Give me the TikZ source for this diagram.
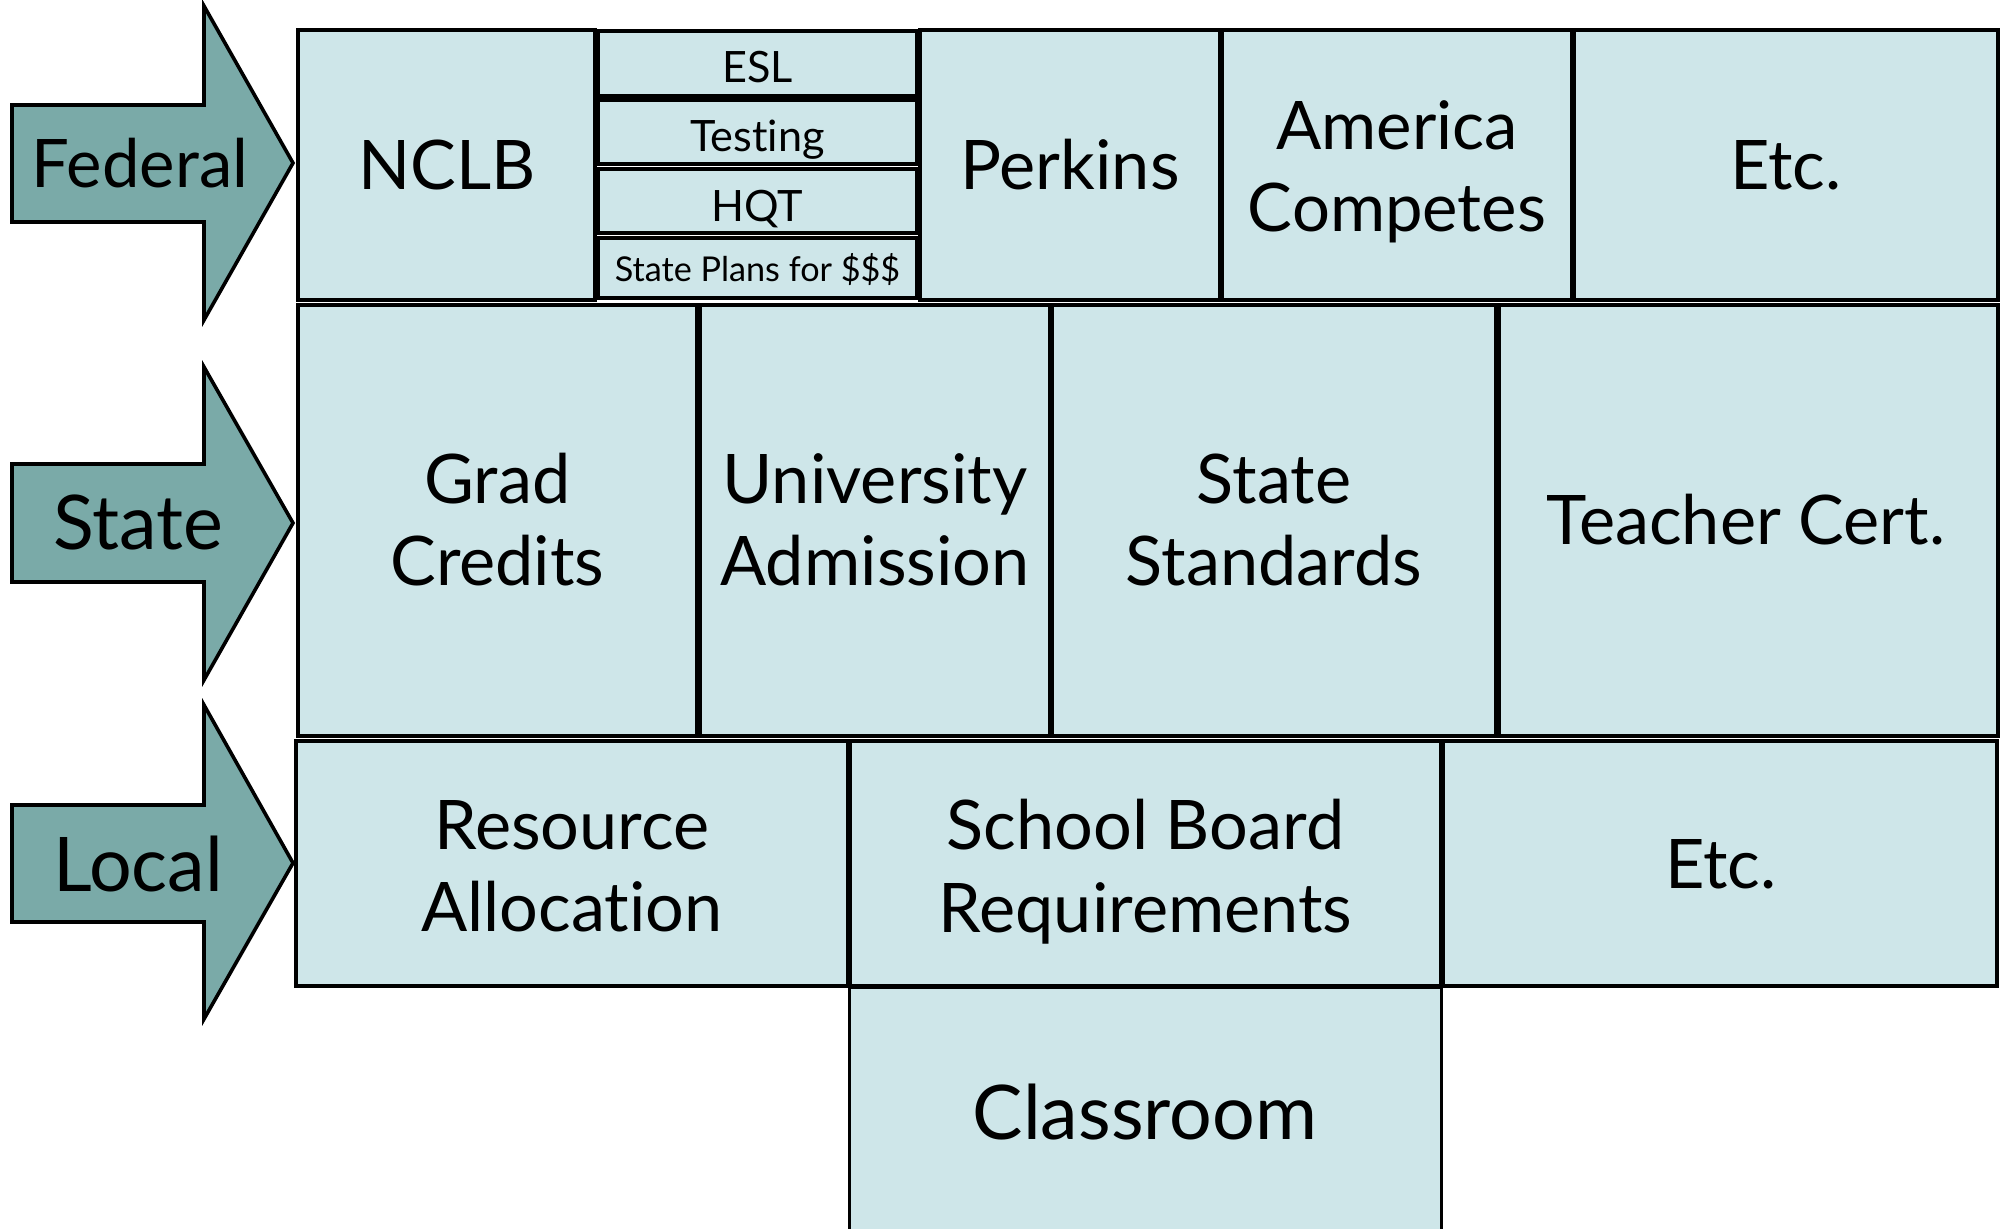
\documentclass[tikz,border=0pt]{standalone}
\usepackage{fontspec}
\setmainfont[Ligatures={NoCommon,NoRare,NoContextual}]{Lato}
\usetikzlibrary{fit}
\definecolor{boxfill}{RGB}{206,230,233}
\definecolor{arrowfill}{RGB}{122,170,168}
\tikzset{
  cell/.style={draw=black, line width=1.7pt, fill=boxfill, inner sep=0pt},
  lvl/.style={draw=black, line width=1.8pt, fill=arrowfill, line join=miter},
  lbl/.style={anchor=base, inner sep=0pt, font=\fontsize{34.2}{40}\selectfont},
  lblbig/.style={lbl, font=\fontsize{37.7}{44}\selectfont},
  lblfed/.style={lbl, font=\fontsize{33.5}{40}\selectfont},
  lblmid/.style={lbl, font=\fontsize{33.5}{40}\selectfont},
  lblsub/.style={lbl, font=\fontsize{21.6}{26}\selectfont},
  lblsmall/.style={lbl, font=\fontsize{17.1}{20}\selectfont}
}
\begin{document}
\begin{tikzpicture}[x=0.5pt,y=-0.5pt]
\useasboundingbox[fill=white] (0,0) rectangle (2007,1229);

% level arrows
\draw[lvl] (12,105) -- (204,105) -- (204,6) -- (293,163) -- (204,320) -- (204,222) -- (12,222) -- cycle;
\draw[lvl] (12,464) -- (204,464) -- (204,367) -- (293,523) -- (204,680) -- (204,582) -- (12,582) -- cycle;
\draw[lvl] (12,805) -- (204,805) -- (204,705) -- (293,863) -- (204,1019) -- (204,922) -- (12,922) -- cycle;
\node[lblfed] (fedT) at (140,188) {Federal};
\node[lblbig] (stateT) at (138,550) {State};
\node[lblbig] (localT) at (138,891) {Local};

% row 1: federal
\node[cell, fit={(298,30) (595,300)}] (nclb) {};
\node[cell, fit={(598,31) (917,96)}] (esl) {};
\node[cell, fit={(598,100) (917,164)}] (testing) {};
\node[cell, fit={(598,169) (917,233)}] (hqt) {};
\node[cell, fit={(598,238) (917,298)}] (plans) {};
\node[cell, fit={(920,30) (1220,300)}] (perkins) {};
\node[cell, fit={(1222,30) (1572,300)}] (america) {};
\node[cell, fit={(1574,30) (1998,300)}] (etcA) {};

\node[lbl] (nclbT) at (447,190) {NCLB};
\node[lblsub] (eslT) at (757.5,83) {ESL};
\node[lblsub] (testingT) at (757.5,152) {Testing};
\node[lblsub] (hqtT) at (757.5,222) {HQT};
\node[lblsmall] (plansT) at (757.5,282) {State Plans for \$\$\$};
\node[lbl] (perkinsT) at (1070,190) {Perkins};
\node[lblmid] (americaT1) at (1397,150) {America};
\node[lblmid] (americaT2) at (1397,232) {Competes};
\node[lbl] (etcAT) at (1786,190) {Etc.};

% row 2: state
\node[cell, fit={(298,305) (697,736)}] (grad) {};
\node[cell, fit={(700,305) (1050,736)}] (univ) {};
\node[cell, fit={(1052,305) (1496,736)}] (stds) {};
\node[cell, fit={(1499,305) (1998,736)}] (teach) {};

\node[lbl] (gradT1) at (497.5,504) {Grad};
\node[lbl] (gradT2) at (497.5,586) {Credits};
\node[lbl] (univT1) at (875,504) {University};
\node[lbl] (univT2) at (875,586) {Admission};
\node[lbl] (stdsT1) at (1274,504) {State};
\node[lbl] (stdsT2) at (1274,586) {Standards};
\node[lbl] (teachT) at (1746,545) {Teacher Cert.};

% row 3: local
\node[cell, fit={(296,741) (848,986)}] (resource) {};
\node[cell, fit={(850,741) (1441,986)}] (board) {};
\node[cell, fit={(1443,741) (1997,986)}] (etcC) {};

\node[lbl] (resourceT1) at (572,849) {Resource};
\node[lbl] (resourceT2) at (572,931) {Allocation};
\node[lbl] (boardT1) at (1145.5,849) {School Board};
\node[lbl] (boardT2) at (1145.5,932) {Requirements};
\node[lbl] (etcCT) at (1721,888) {Etc.};

% classroom (runs off the bottom edge)
\node[fill=boxfill, inner sep=0pt, fit={(850,988) (1441,1229)}] (classroom) {};
\draw[line width=1.7pt] (classroom.south west) -- (classroom.north west) -- (classroom.north east) -- (classroom.south east);
\node[lblbig] (classroomT) at (1145,1139) {Classroom};
\end{tikzpicture}
\end{document}
